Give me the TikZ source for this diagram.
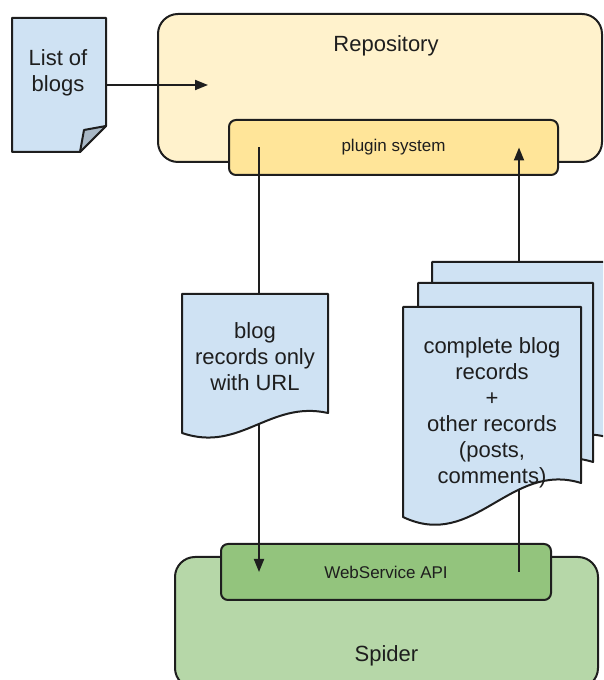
\documentclass[tikz,border=0pt]{standalone}
\usepackage{fontspec}
\setmainfont{Liberation Sans}
\usepackage{xcolor}
\usepackage{tikz}
\usetikzlibrary{arrows.meta,calc,positioning}
\definecolor{docblue}{HTML}{CFE2F3}
\definecolor{docfold}{HTML}{A9B8C6}
\definecolor{repoyel}{HTML}{FFF2CC}
\definecolor{plugyel}{HTML}{FFE599}
\definecolor{spidgrn}{HTML}{B6D7A8}
\definecolor{apigrn}{HTML}{93C47D}
\definecolor{inkblk}{HTML}{1E1E1E}

% sheet with wavy bottom: x, top, width, height (right side), drop
\newcommand{\docsheet}[5]{%
  \draw[sheet] (#1,#2) -- ++(#3,0) -- ++(0,-#4)
    .. controls +(-0.4*#3,0.65*#5) and +(0.4*#3,-#5) .. ++(-#3,-#5) -- cycle;}

\begin{document}
\begin{tikzpicture}[
  x=1pt,y=1pt,
  font=\fontsize{22}{26}\selectfont,
  text=inkblk,
  box/.style={draw=inkblk,line width=2pt,rounded corners=20pt,inner sep=0pt},
  bar/.style={draw=inkblk,line width=2pt,rounded corners=7pt,inner sep=0pt,
              font=\fontsize{17}{20}\selectfont},
  sheet/.style={draw=inkblk,line width=2pt,fill=docblue,line join=round},
  txt/.style={align=center,inner sep=0pt},
  arr/.style={-{Triangle[length=13pt,width=10pt]},line width=1.9pt,inkblk}
]
  \useasboundingbox (0,0) rectangle (603,680);
  \clip (0,0) rectangle (603,680);
  % repository side
  \node[box,fill=repoyel,minimum width=444pt,minimum height=148pt] (repo) at (380,592) {};
  \node[txt] (repolbl) at (386,634) {Repository};
  \node[bar,fill=plugyel,minimum width=329pt,minimum height=55pt] (plugin) at (393.5,532.5) {plugin system};
  % spider side
  \node[box,fill=spidgrn,minimum width=423pt,minimum height=131pt] (spider) at (386.5,57.5) {};
  \node[txt] (spidlbl) at (386.5,24) {Spider};
  \node[bar,fill=apigrn,minimum width=330pt,minimum height=56pt] (api) at (386,108) {WebService API};
  % list of blogs
  \draw[sheet] (12,662) -- (106,662) -- (106,554) -- (80,528) -- (12,528) -- cycle;
  \draw[sheet,fill=docfold] (106,554) -- (84,550) -- (80,528) -- cycle;
  \node[txt,minimum width=94pt,minimum height=134pt] (blogs) at (59,595) {};
  \node[txt] (blogslbl) at (58,607) {List of\\blogs};
  \coordinate (repoin) at (208,595);
  \draw[arr] (blogs.east) -- (repoin);
  % data flow
  \coordinate (dnx) at (259,0);
  \coordinate (upx) at (519,0);
  \draw[arr] (plugin.center -| dnx) -- (api.center -| dnx);
  \draw[arr] (api.center -| upx) -- (plugin.center -| upx);
  % records
  \docsheet{182}{386}{146}{119}{20}
  \node[txt] (urlrec) at (255,323) {blog\\records only\\with URL};
  \docsheet{432}{418}{178}{176}{34}
  \docsheet{418}{397}{175}{179}{34}
  \docsheet{403}{373}{178}{176}{34}
  \node[txt] (fullrec) at (492,267) {complete blog\\records\\+\\other records\\(posts,\\comments)};
\end{tikzpicture}
\end{document}
